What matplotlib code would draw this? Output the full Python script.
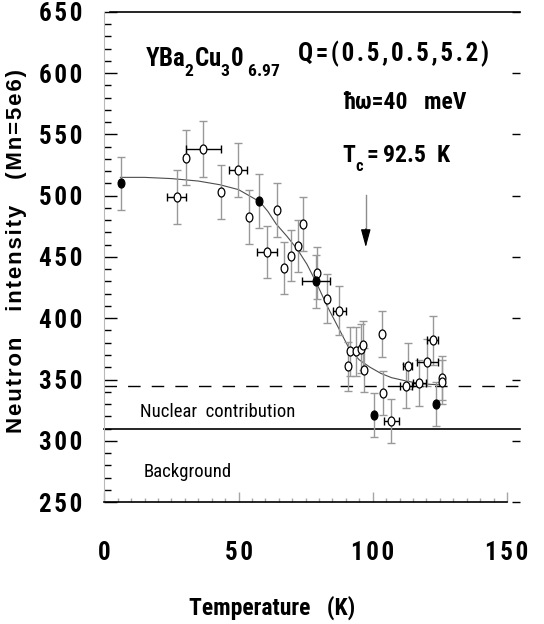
import matplotlib
matplotlib.use("Agg")
import matplotlib.pyplot as plt
import matplotlib.transforms as mtransforms
from matplotlib.path import Path
from matplotlib.ticker import MultipleLocator
import numpy as np

try:
    import matplotlib._mathtext as _mt
    _mt.FontConstantsBase.sub1 = 0.75  # drop subscripts a bit lower, like the original
    _mt.FontConstantsBase.sub2 = 0.9
except Exception:
    pass

narrow = "Roboto Condensed"
wide = "Liberation Sans"

plt.rcParams["font.family"] = [narrow, wide, "DejaVu Sans"]
plt.rcParams["mathtext.fontset"] = "custom"
plt.rcParams["mathtext.rm"] = narrow + ":bold"
plt.rcParams["mathtext.bf"] = narrow + ":bold"
plt.rcParams["mathtext.it"] = narrow + ":bold"

# data
# filled circles
t_full = [6.1, 57.8, 78.8, 100.5, 123.4]
i_full = [510, 496, 430, 321, 330]
di_full = [22, 22, 22, 18, 18]
dt_full = [0, 0, 5.3, 0, 0]

# open circles
t_open = [26.9, 30.4, 36.9, 43.3, 49.8, 53.9, 64.3, 60.6, 66.8, 69.4, 72.2, 73.9,
          79.1, 83.0, 87.6, 90.7, 91.6, 93.8, 95.5, 96.5, 96.9, 103.4, 103.8,
          106.9, 112.4, 113.0, 117.4, 120.3, 122.3, 125.8, 125.8]
i_open = [499, 531, 538, 503, 521, 483, 488, 454, 441, 451, 459, 477,
          437, 416, 406, 361, 373, 373, 375, 378, 358, 387, 339,
          316, 345, 361, 347, 364, 382, 351, 348]
di_open = [22, 22.5, 23, 22, 22, 22, 22, 21, 21, 21, 21, 22,
           21, 20, 20, 20, 20, 20, 20, 20, 18, 19, 18,
           18, 18, 19, 19, 19, 20, 18, 18]
dt_open = [3.5, 0, 6.4, 0, 3.5, 0, 0, 3.6, 0, 0, 0, 0,
           0, 0, 2.5, 0, 0, 0, 0, 0, 0, 0, 0,
           2.8, 2.2, 1.7, 2.5, 4.0, 2.0, 0, 0]

# guide-to-the-eye curve
t_fit = [6, 15, 25, 35, 43, 50, 54, 58, 61, 64, 68, 72, 75.5, 79, 83, 87.5,
         91.5, 95, 99, 103, 107, 112, 118, 126]
i_fit = [515, 515, 514, 512, 509, 505, 500, 495, 487, 477, 467, 456, 444, 429,
         410, 391, 374, 366, 360, 355, 351.5, 349, 346.5, 345.5]

nuclear = 345
background = 310
tc_arrow_x = 97.4
tc_arrow_y = [501, 471, 458]

x_ticks = [0, 50, 100, 150]
y_ticks = [250, 300, 350, 400, 450, 500, 550, 600, 650]


def spaced(s, sep="\u200a"):
    return sep.join(s)


fig = plt.figure(figsize=(5.44, 6.24), dpi=100)
ax = fig.add_axes([0.1917, 0.1955, 0.7403, 0.7853])
ax.set_xlim(0, 150)
ax.set_ylim(250, 650)

ax.spines["top"].set_visible(False)
ax.spines["right"].set_visible(False)
ax.spines["left"].set_color("0.72")
ax.spines["bottom"].set_linewidth(1.2)

ax.set_xticks(x_ticks)
ax.set_xticklabels([spaced(str(v)) for v in x_ticks])
ax.xaxis.set_minor_locator(MultipleLocator(5))
ax.set_yticks(y_ticks)
ax.set_yticklabels([spaced(str(v)) for v in y_ticks])
ax.yaxis.set_minor_locator(MultipleLocator(10))
ax.tick_params(axis="x", which="major", direction="in", length=7, width=1,
               color="0.65", pad=28, labelsize=18)
ax.tick_params(axis="x", which="minor", direction="in", length=3, width=1, color="0.65")
ax.tick_params(axis="y", which="major", direction="in", length=9, width=1,
               color="k", pad=16, labelsize=18)
ax.tick_params(axis="y", which="minor", direction="in", length=5, width=1, color="k")
for lab in ax.get_xticklabels() + ax.get_yticklabels():
    lab.set_fontweight("bold")

sec = ax.secondary_yaxis(1.033)
sec.spines["right"].set_visible(False)
sec.set_yticks(y_ticks)
sec.tick_params(direction="in", length=6, width=1, labelright=False)

trans = mtransforms.blended_transform_factory(ax.transAxes, ax.transData)
ax.plot([0.015, 1.033], [650, 650], transform=trans, color="k", lw=1.2, clip_on=False)
ax.plot([0, 1.033], [nuclear, nuclear], transform=trans, color="k", lw=1,
        dashes=(9, 8), clip_on=False)
ax.plot([0, 1.033], [background, background], transform=trans, color="k", lw=1.2,
        clip_on=False)

ax.plot(t_fit, i_fit, color="0.3", lw=0.8, zorder=2)

marker = Path.unit_circle().transformed(mtransforms.Affine2D().scale(0.75, 1.0))

for t, i, di, dt, face in [(t_open, i_open, di_open, dt_open, "white"),
                           (t_full, i_full, di_full, dt_full, "black")]:
    t = np.array(t)
    i = np.array(i)
    dt = np.array(dt)
    eb = ax.errorbar(t, i, yerr=di, fmt="none", ecolor="0.6", elinewidth=1,
                     capsize=3, capthick=1, zorder=3)
    for cap in eb[1]:
        cap.set_color("k")
    m = dt > 0
    if m.any():
        ax.errorbar(t[m], i[m], xerr=dt[m], fmt="none", ecolor="k", elinewidth=1,
                    capsize=3, capthick=1, zorder=3)
    ax.plot(t, i, ls="none", marker=marker, ms=6.5, mfc=face, mec="k", mew=0.9, zorder=4)

# Tc arrow: grey shaft, black head
ax.plot([tc_arrow_x, tc_arrow_x], tc_arrow_y[:2], color="0.55", lw=1)
ax.annotate("", xy=(tc_arrow_x, tc_arrow_y[2]), xytext=(tc_arrow_x, tc_arrow_y[1] + 2),
            arrowprops=dict(arrowstyle="-|>,head_length=1.1,head_width=0.3",
                            color="k", lw=0.8, shrinkA=0, shrinkB=0))

ax.text(15.2, 605.5, r"$\mathrm{YBa_{2}Cu_{3}0_{\ 6.97}}$", fontsize=18, va="baseline")
ax.text(72.2, 609.6, spaced("Q=(0.5,0.5,5.2)"), fontsize=18,
        fontweight="bold", va="baseline")
ax.text(89, 570.5, "\u0127\u03c9=40   meV", fontsize=17, fontweight="bold", va="baseline")
ax.text(88.4, 527.3, r"$\mathrm{T_{c}{=}92.5\ \ K}$", fontsize=17, va="baseline")
ax.text(13.3, 319, "Nuclear  contribution", fontsize=13.5, va="baseline")
ax.text(14.5, 270.4, "Background", fontsize=13.5, va="baseline")

ax.set_xlabel("Temperature   (K)", fontsize=17, fontweight="bold")
ax.xaxis.set_label_coords(0.417, -0.19)
ax.set_ylabel(spaced("Neutron   intensity   (Mn=5e6)", "\u200a"), fontsize=16,
              fontweight="bold", family=[wide, "DejaVu Sans"])
ax.yaxis.label.set_va("center")
ax.yaxis.set_label_coords(-0.219, 0.512)

fig.savefig("out.png", dpi=100)
